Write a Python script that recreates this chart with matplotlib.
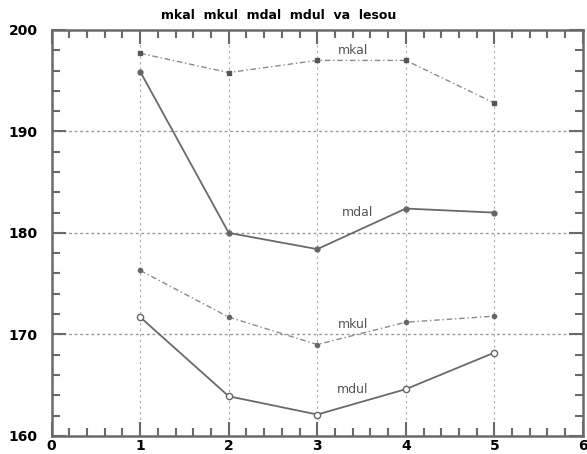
import matplotlib.pyplot as plt
from matplotlib.ticker import MultipleLocator

x = [1, 2, 3, 4, 5]
mkal = [197.7, 195.8, 197.0, 197.0, 192.8]
mdal = [195.9, 180.0, 178.4, 182.4, 182.0]
mkul = [176.3, 171.7, 169.0, 171.2, 171.8]
mdul = [171.7, 163.9, 162.1, 164.6, 168.2]

fig = plt.figure(figsize=(5.87, 4.54), dpi=100)
ax = fig.add_axes([0.088, 0.040, 0.905, 0.894])

grey = '#6a6a6a'
ax.plot(x, mkal, color='#8a8a8a', lw=1.0, ls=(0, (4, 2, 1, 2)), marker='s', ms=3.5,
        mfc='#555555', mec='#555555')
ax.plot(x, mdal, color=grey, lw=1.3, marker='o', ms=3.5, mfc='#666666', mec='#666666')
ax.plot(x, mkul, color='#8a8a8a', lw=1.0, ls=(0, (4, 2, 1, 2)), marker='o', ms=3,
        mfc='#666666', mec='#666666')
ax.plot(x, mdul, color=grey, lw=1.3, marker='o', ms=4.5, mfc='white', mec='#666666')

ax.text(3.4, 198.0, 'mkal', fontsize=9, color='#555555', ha='center', va='center')
ax.text(3.45, 182.0, 'mdal', fontsize=9, color='#555555', ha='center', va='center')
ax.text(3.4, 171.0, 'mkul', fontsize=9, color='#555555', ha='center', va='center')
ax.text(3.4, 164.6, 'mdul', fontsize=9, color='#555555', ha='center', va='center')

ax.set_xlim(0, 6)
ax.set_ylim(160, 200)
ax.xaxis.set_major_locator(MultipleLocator(1))
ax.xaxis.set_minor_locator(MultipleLocator(0.2))
ax.yaxis.set_major_locator(MultipleLocator(10))
ax.yaxis.set_minor_locator(MultipleLocator(2))
ax.tick_params(which='both', direction='in', top=True, right=True, color=grey, width=1.5)
ax.tick_params(which='major', length=10, labelsize=10)
ax.tick_params(which='minor', length=6)
ax.tick_params(axis='x', pad=2)
ax.tick_params(axis='y', pad=10)
for lab in ax.get_xticklabels() + ax.get_yticklabels():
    lab.set_fontweight('bold')

for sp in ax.spines.values():
    sp.set_color(grey)
    sp.set_linewidth(1.8)

for xv in x:
    ax.axvline(xv, color='#aaaaaa', lw=0.8, ls=(0, (2, 3)), zorder=0)
for yv in [170, 180, 190]:
    ax.axhline(yv, color='#999999', lw=1.0, ls=(0, (2, 2)), zorder=0)

fig.text(0.474, 0.966, 'mkal  mkul  mdal  mdul  va  lesou', fontsize=9,
         fontweight='bold', ha='center', va='center')

fig.savefig('out.png', dpi=100)
